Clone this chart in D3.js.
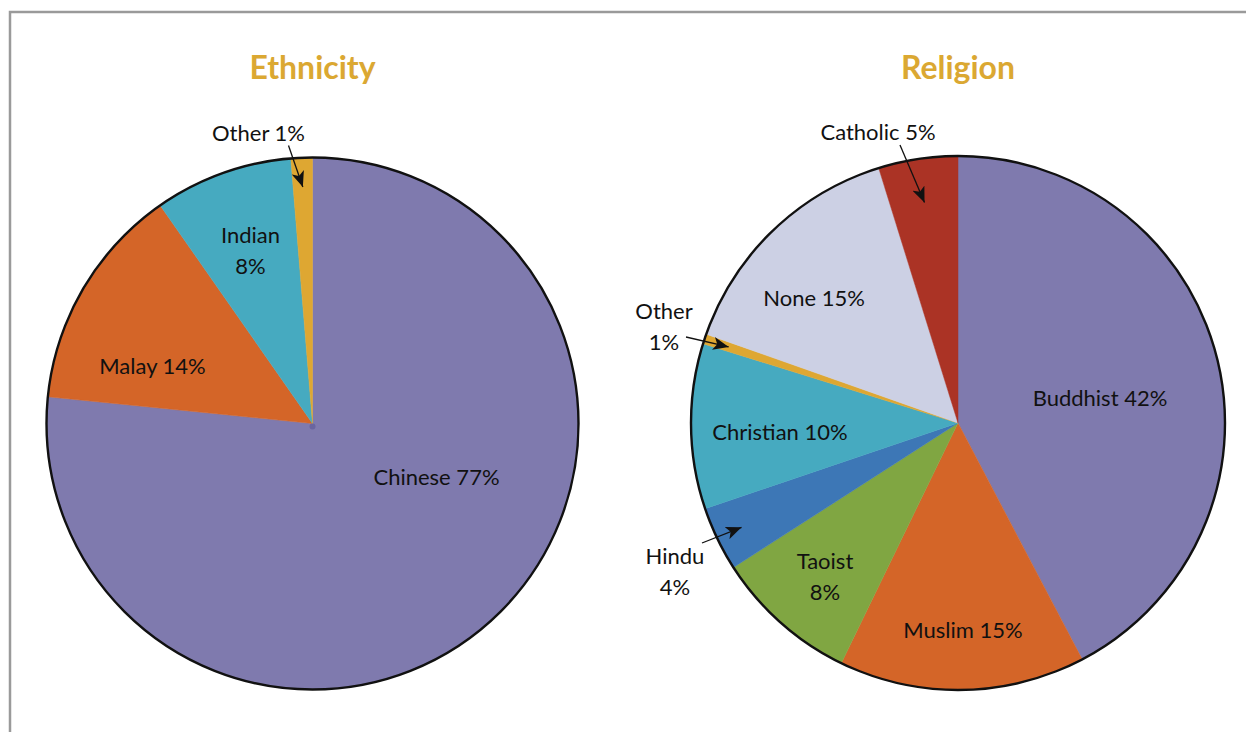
<!DOCTYPE html>
<html>
<head>
<meta charset="utf-8">
<script src="https://cdn.jsdelivr.net/npm/d3@7"></script>
<style>
  body { margin: 0; background: #fff; }
  svg { display: block; }
  text { font-family: Lato, "Open Sans", sans-serif; }
</style>
</head>
<body>
<div id="output"></div>
<script>
// ethnicity data (clockwise from 12 o'clock)
var ethnicCats = ["Chinese", "Malay", "Indian", "Other"];
var ethnicVals = [76.6, 13.7, 8.4, 1.3];
var ethnicLabels = [["Chinese 77%"], ["Malay 14%"], ["Indian", "8%"], ["Other 1%"]];

// religion data
var religionCats = ["Buddhist", "Muslim", "Taoist", "Hindu", "Christian", "Other", "None", "Catholic"];
var religionVals = [42.3, 14.9, 8.7, 3.9, 10.0, 0.6, 14.8, 4.8];
var religionLabels = [["Buddhist 42%"], ["Muslim 15%"], ["Taoist", "8%"], ["Hindu", "4%"],
  ["Christian 10%"], ["Other", "1%"], ["None 15%"], ["Catholic 5%"]];

var colors = {
  Chinese: "#7f7aae", Malay: "#d46528", Indian: "#46aac0",
  Buddhist: "#7f7aae", Muslim: "#d46528", Taoist: "#80a642", Hindu: "#3d77b6",
  Christian: "#46aac0", None: "#ccd0e4", Catholic: "#ab3325", Other: "#dea732"
};

// label placement, offsets from the pie centre (layout only)
var ethnicLayout = [
  {dx: 124, dy: 54},
  {dx: -160, dy: -57},
  {dx: -62, dy: -172},
  {dx: -54, dy: -290, tail: [-24, -278], tip: 0.89}
];
var religionLayout = [
  {dx: 142, dy: -24},
  {dx: 5, dy: 208},
  {dx: -133, dy: 154},
  {dx: -283, dy: 149, tail: [-256, 120], tip: 0.9},
  {dx: -178, dy: 10},
  {dx: -294, dy: -96, tail: [-272, -86], tip: 0.905},
  {dx: -144, dy: -124},
  {dx: -80, dy: -290, tail: [-58, -278], tip: 0.835}
];

var W = 1246, H = 732;
var svg = d3.select("#output").append("svg")
  .attr("width", W)
  .attr("height", H);

// arrowhead
svg.append("defs").append("marker")
  .attr("id", "arrow")
  .attr("viewBox", "0 0 12 10")
  .attr("refX", 12)
  .attr("refY", 5)
  .attr("markerWidth", 16)
  .attr("markerHeight", 13)
  .attr("markerUnits", "userSpaceOnUse")
  .attr("orient", "auto")
  .append("path")
  .attr("d", "M0,0 L12,5 L0,10 L3,5 Z")
  .attr("fill", "#111");

// frame
svg.append("rect")
  .attr("x", 10)
  .attr("y", 12)
  .attr("width", W + 20)
  .attr("height", H + 20)
  .attr("fill", "none")
  .attr("stroke", "#9a9a9a")
  .attr("stroke-width", 2.5);

function drawPie(title, cats, vals, labels, layout, cx, cy, r, centerDot) {
  var g = svg.append("g").attr("transform", "translate(" + cx + "," + cy + ")");

  svg.append("text")
    .text(title)
    .attr("x", cx)
    .attr("y", 79)
    .attr("text-anchor", "middle")
    .attr("font-size", 32)
    .attr("font-weight", "bold")
    .attr("fill", "#dba832");

  var pie = d3.pie().sort(null).value(function (d) { return d; });
  var arcs = pie(vals);
  var arc = d3.arc().innerRadius(0).outerRadius(r);

  g.selectAll("path.slice")
    .data(arcs)
    .enter().append("path")
    .attr("class", "slice")
    .attr("d", arc)
    .attr("fill", function (d, i) { return colors[cats[i]]; })
    .attr("stroke", function (d, i) { return colors[cats[i]]; })
    .attr("stroke-width", 0.5);

  // outer outline
  g.append("circle")
    .attr("r", r)
    .attr("fill", "none")
    .attr("stroke", "#111")
    .attr("stroke-width", 2.4);

  if (centerDot) {
    g.append("circle")
      .attr("r", 3)
      .attr("cy", 3)
      .attr("fill", "#6a65a0");
  }

  arcs.forEach(function (a, i) {
    var lay = layout[i];
    var lines = labels[i];
    var lh = 31;
    var t = g.append("text")
      .attr("text-anchor", "middle")
      .attr("font-size", 22)
      .attr("fill", "#111");
    lines.forEach(function (line, k) {
      t.append("tspan")
        .attr("x", lay.dx)
        .attr("y", lay.dy + (k - (lines.length - 1) / 2) * lh + 7)
        .text(line);
    });

    if (lay.tail) {
      var mid = (a.startAngle + a.endAngle) / 2;
      var tr = r * lay.tip;
      g.append("line")
        .attr("x1", lay.tail[0])
        .attr("y1", lay.tail[1])
        .attr("x2", tr * Math.sin(mid))
        .attr("y2", -tr * Math.cos(mid))
        .attr("stroke", "#111")
        .attr("stroke-width", 1.3)
        .attr("marker-end", "url(#arrow)");
    }
  });
}

drawPie("Ethnicity", ethnicCats, ethnicVals, ethnicLabels, ethnicLayout, 312.5, 423.5, 266, true);
drawPie("Religion", religionCats, religionVals, religionLabels, religionLayout, 958, 423, 267, false);
</script>
</body>
</html>
